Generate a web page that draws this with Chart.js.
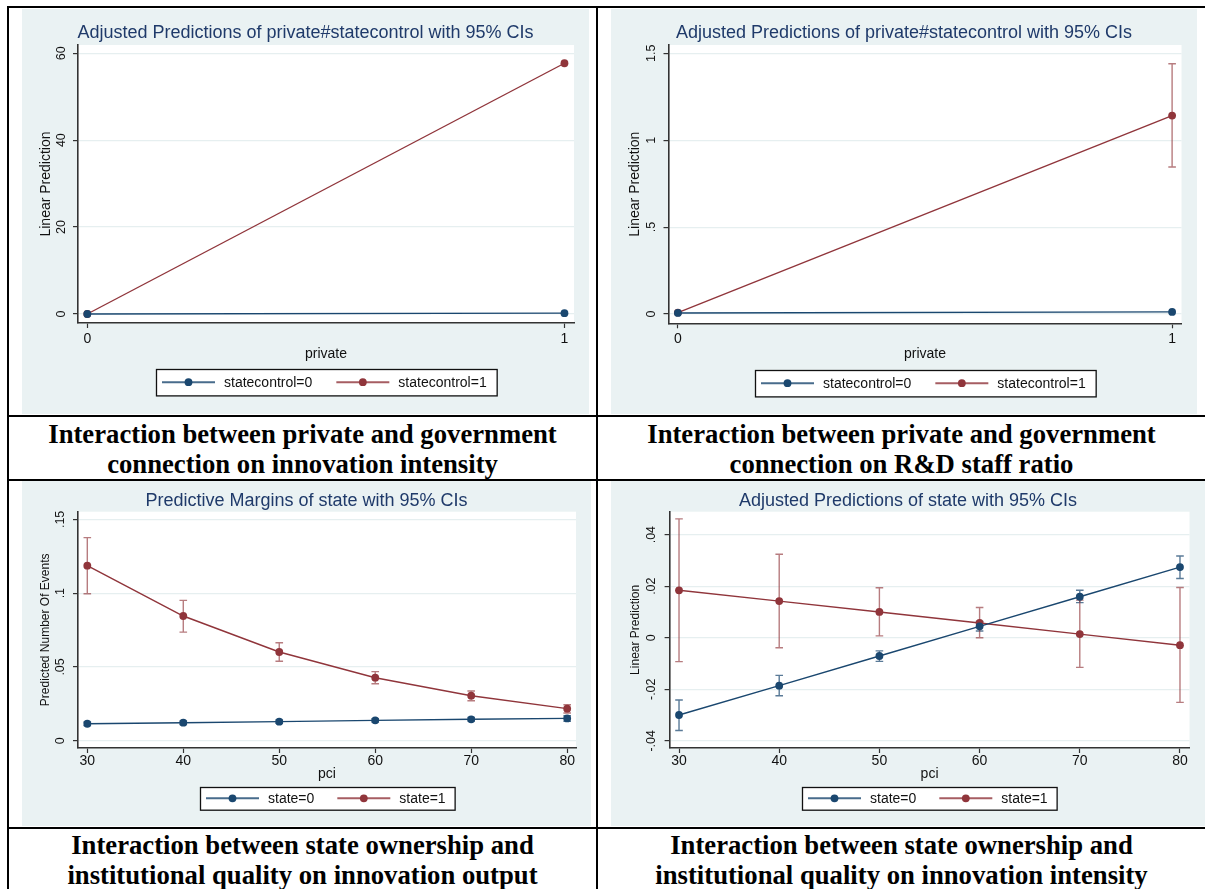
<!DOCTYPE html>
<html>
<head>
<meta charset="utf-8">
<script src="https://cdn.jsdelivr.net/npm/chart.js@4/dist/chart.umd.min.js"></script>
<style>
html, body { margin: 0; padding: 0; background: #fff; }
#page { position: relative; width: 1205px; height: 889px; overflow: hidden; background: #fff; }
.rule { position: absolute; background: #000; }
.panel { position: absolute; background: #eaf2f3; }
.panel canvas { display: block; }
.caption {
  position: absolute; text-align: center; white-space: nowrap; color: #000;
  font-family: "Liberation Serif", "Times New Roman", serif; font-weight: bold;
  font-size: 26.7px; line-height: 30px;
}
</style>
</head>
<body>
<div id="page">
  <div class="panel" style="left:22px;top:9px;width:567px;height:405px;"><canvas id="c1" width="567" height="405"></canvas></div>
  <div class="panel" style="left:611px;top:9px;width:586px;height:405px;"><canvas id="c2" width="586" height="405"></canvas></div>
  <div class="panel" style="left:22px;top:481px;width:569px;height:345px;"><canvas id="c3" width="569" height="345"></canvas></div>
  <div class="panel" style="left:611px;top:481px;width:594px;height:345px;"><canvas id="c4" width="594" height="345"></canvas></div>

  <div class="rule" style="left:7px;top:6px;width:1198px;height:2px;"></div>
  <div class="rule" style="left:7px;top:6px;width:2px;height:883px;"></div>
  <div class="rule" style="left:596px;top:6px;width:2px;height:883px;"></div>
  <div class="rule" style="left:7px;top:415px;width:1198px;height:2px;"></div>
  <div class="rule" style="left:7px;top:479px;width:1198px;height:2px;"></div>
  <div class="rule" style="left:7px;top:827px;width:1198px;height:2px;"></div>

  <div class="caption" style="left:9px;top:419px;width:587px;">Interaction between private and government<br>connection on innovation intensity</div>
  <div class="caption" style="left:598px;top:419px;width:607px;">Interaction between private and government<br>connection on R&amp;D staff ratio</div>
  <div class="caption" style="left:9px;top:830px;width:587px;">Interaction between state ownership and<br>institutional quality on innovation output</div>
  <div class="caption" style="left:598px;top:830px;width:607px;">Interaction between state ownership and<br>institutional quality on innovation intensity</div>
</div>

<script>
// ---- data ----
const privateLevels = [0, 1];
const pciLevels = [30, 40, 50, 60, 70, 80];

// innovation intensity by private x statecontrol
const intensityCtl0 = [0, 0.2];
const intensityCtl1 = [0, 57.7];
const intensityTicks = [0, 20, 40, 60];

// R&D staff ratio by private x statecontrol
const staffCtl0 = [0.006, 0.012];
const staffCtl1 = [0.008, 1.142];
const staffCtl1Low = [null, 0.846];
const staffCtl1High = [null, 1.44];
const staffTicks = [0, 0.5, 1, 1.5];

// innovation output (predicted events) by pci x state
const outputState0 = [0.0115, 0.0122, 0.0129, 0.0138, 0.0145, 0.0151];
const outputState0Low = [0.0102, 0.0110, 0.0118, 0.0127, 0.0133, 0.0131];
const outputState0High = [0.0127, 0.0133, 0.0140, 0.0149, 0.0157, 0.0169];
const outputState1 = [0.1186, 0.0845, 0.0601, 0.0427, 0.0305, 0.0217];
const outputState1Low = [0.0996, 0.0736, 0.0538, 0.0386, 0.0271, 0.0188];
const outputState1High = [0.1376, 0.0951, 0.0664, 0.0468, 0.0337, 0.0244];
const outputTicks = [0, 0.05, 0.1, 0.15];

// innovation intensity by pci x state
const pciIntState0 = [-0.0300, -0.0186, -0.0071, 0.0044, 0.0159, 0.0274];
const pciIntState0Low = [-0.0360, -0.0225, -0.0092, 0.0026, 0.0136, 0.0230];
const pciIntState0High = [-0.0242, -0.0146, -0.0051, 0.0063, 0.0184, 0.0317];
const pciIntState1 = [0.0184, 0.0142, 0.0100, 0.0057, 0.0014, -0.0029];
const pciIntState1Low = [-0.0093, -0.0039, 0.0007, 0.0000, -0.0115, -0.0251];
const pciIntState1High = [0.0461, 0.0324, 0.0194, 0.0117, 0.0146, 0.0195];
const pciIntTicks = [-0.04, -0.02, 0, 0.02, 0.04];

// ---- styling ----
const NAVY = '#1a476f';
const MAROON = '#90353b';
const NAVY_CI = 'rgba(26,71,111,0.72)';
const MAROON_CI = 'rgba(144,53,59,0.65)';
const TITLE_COLOR = '#1f3a6a';
const AXIS_COLOR = '#333333';
const GRID_COLOR = '#e6eff0';
const FONT = "'Liberation Sans', Arial, Helvetica, sans-serif";

Chart.defaults.font.family = FONT;
Chart.defaults.color = '#111';

// Stata-style number labels: .05, -.02, 1.5
function stataNum(v) {
  const s = String(Math.round(v * 10000) / 10000);
  return s.replace(/^(-?)0\./, '$1.');
}

const plotBg = {
  id: 'plotBg',
  beforeDraw(chart) {
    const { ctx, chartArea: a } = chart;
    ctx.save();
    ctx.fillStyle = '#ffffff';
    ctx.fillRect(a.left, a.top, a.right - a.left, a.bottom - a.top);
    ctx.restore();
  }
};

// confidence-interval caps drawn under the lines
const ciCaps = {
  id: 'ciCaps',
  beforeDatasetsDraw(chart) {
    const { ctx, scales: { x, y } } = chart;
    chart.data.datasets.forEach(ds => {
      if (!ds.ciLow) return;
      ctx.save();
      ctx.strokeStyle = ds.ciColor;
      ctx.lineWidth = 1.4;
      ds.data.forEach((pt, i) => {
        const lo = ds.ciLow[i], hi = ds.ciHigh[i];
        if (lo == null || hi == null) return;
        const px = x.getPixelForValue(pt.x);
        const pl = y.getPixelForValue(lo);
        const ph = y.getPixelForValue(hi);
        const cap = 3.8;
        ctx.beginPath();
        ctx.moveTo(px, pl); ctx.lineTo(px, ph);
        ctx.moveTo(px - cap, pl); ctx.lineTo(px + cap, pl);
        ctx.moveTo(px - cap, ph); ctx.lineTo(px + cap, ph);
        ctx.stroke();
      });
      ctx.restore();
    });
  }
};

// framed legend row under the x-axis title
const boxLegend = {
  id: 'boxLegend',
  afterDraw(chart, args, o) {
    const { ctx, chartArea: a } = chart;
    ctx.save();
    ctx.font = o.fontSize + 'px ' + FONT;
    const items = chart.data.datasets.map(ds => ({
      label: ds.label, color: ds.borderColor, lineColor: ds.legendLine,
      w: ctx.measureText(ds.label).width
    }));
    let width = o.padLeft + o.padRight;
    items.forEach((it, i) => { width += o.lineLen + o.textGap + it.w + (i ? o.itemGap : 0); });
    const left = Math.round((a.left + a.right) / 2 - width / 2);
    const top = Math.round(a.bottom + o.offset);
    const cy = top + o.height / 2;
    ctx.fillStyle = '#fff';
    ctx.fillRect(left, top, width, o.height);
    ctx.strokeStyle = '#111';
    ctx.lineWidth = 1.3;
    ctx.strokeRect(left + 0.5, top + 0.5, width, o.height);
    let x = left + o.padLeft;
    items.forEach((it, i) => {
      if (i) x += o.itemGap;
      ctx.strokeStyle = it.lineColor;
      ctx.lineWidth = 2;
      ctx.beginPath(); ctx.moveTo(x, cy); ctx.lineTo(x + o.lineLen, cy); ctx.stroke();
      ctx.fillStyle = it.color;
      ctx.beginPath(); ctx.arc(x + o.lineLen / 2, cy, 3.9, 0, Math.PI * 2); ctx.fill();
      x += o.lineLen + o.textGap;
      ctx.fillStyle = '#111';
      ctx.textBaseline = 'middle';
      ctx.textAlign = 'left';
      ctx.fillText(it.label, x, cy + 0.5);
      x += it.w;
    });
    ctx.restore();
  }
};

function series(label, xs, ys, color, lineColor, ciColor, low, high) {
  return {
    label,
    data: xs.map((xv, i) => ({ x: xv, y: ys[i] })),
    borderColor: color,
    backgroundColor: color,
    borderWidth: 1.4,
    pointRadius: 3.9,
    pointBorderWidth: 0,
    pointBackgroundColor: color,
    tension: 0,
    legendLine: lineColor,
    ciColor, ciLow: low || null, ciHigh: high || null
  };
}

function panel(id, c) {
  new Chart(document.getElementById(id), {
    type: 'line',
    data: { datasets: c.datasets },
    plugins: [plotBg, ciCaps, boxLegend],
    options: {
      responsive: false,
      animation: false,
      events: [],
      layout: { padding: { left: c.padSide, right: c.padSide, top: 0, bottom: c.padBottom } },
      plugins: {
        legend: { display: false },
        tooltip: { enabled: false },
        title: {
          display: true, text: c.title, color: TITLE_COLOR,
          font: { size: 18, weight: 'normal' },
          padding: { top: c.titleTop, bottom: c.titleBottom }
        },
        boxLegend: c.legend
      },
      scales: {
        x: {
          type: 'linear', min: c.xMin, max: c.xMax,
          afterBuildTicks: s => { s.ticks = c.xTicks.map(v => ({ value: v })); },
          afterFit: s => { s.height = c.xAxisHeight; },
          grid: { drawOnChartArea: false, drawTicks: true, tickLength: 5, tickColor: AXIS_COLOR, tickWidth: 1.2 },
          border: { display: true, color: AXIS_COLOR, width: 1.6 },
          ticks: { font: { size: 14 }, color: '#111', padding: c.xTickPad, maxRotation: 0, autoSkip: false, callback: v => stataNum(v) },
          title: { display: true, text: c.xTitle, font: { size: 14 }, color: '#111', padding: { top: 0, bottom: c.xTitlePad } }
        },
        y: {
          type: 'linear', min: c.yMin, max: c.yMax,
          afterBuildTicks: s => { s.ticks = c.yTicks.map(v => ({ value: v })); },
          afterFit: s => { s.width = c.yAxisWidth; },
          grid: { color: GRID_COLOR, lineWidth: 1.2, drawTicks: true, tickLength: 5, tickColor: AXIS_COLOR, tickWidth: 1.2 },
          border: { display: true, color: AXIS_COLOR, width: 1.6 },
          ticks: { font: { size: 12.5 }, color: '#111', padding: c.yTickPad, minRotation: 90, maxRotation: 90, crossAlign: 'center', autoSkip: false, callback: v => stataNum(v) },
          title: { display: true, text: c.yTitle, font: { size: c.yTitleSize }, color: '#111', padding: { top: c.yTitlePad, bottom: 0 } }
        }
      }
    }
  });
}

const legendTop = { fontSize: 14, padLeft: 6, lineLen: 53, textGap: 9, itemGap: 24, padRight: 10, offset: 46.3, height: 26.4 };
const legendBottom = { fontSize: 14, padLeft: 6, lineLen: 53, textGap: 9, itemGap: 23, padRight: 9, offset: 39.3, height: 22.7 };

panel('c1', {
  title: 'Adjusted Predictions of private#statecontrol with 95% CIs',
  datasets: [
    series('statecontrol=0', privateLevels, intensityCtl0, NAVY, 'rgba(26,71,111,0.8)', NAVY_CI),
    series('statecontrol=1', privateLevels, intensityCtl1, MAROON, 'rgba(144,53,59,0.8)', MAROON_CI)
  ],
  xMin: -0.0195, xMax: 1.02, xTicks: privateLevels, xTitle: 'private',
  yMin: -2.07, yMax: 61.9, yTicks: intensityTicks, yTitle: 'Linear Prediction', yTitleSize: 14,
  padSide: 15, padBottom: 47, xAxisHeight: 44, xTickPad: 2.6, xTitlePad: 4.6,
  yAxisWidth: 41, yTickPad: 5.0, yTitlePad: 0.6,
  titleTop: 13.2, titleBottom: 1.2, legend: legendTop
});

panel('c2', {
  title: 'Adjusted Predictions of private#statecontrol with 95% CIs',
  datasets: [
    series('statecontrol=0', privateLevels, staffCtl0, NAVY, 'rgba(26,71,111,0.8)', NAVY_CI),
    series('statecontrol=1', privateLevels, staffCtl1, MAROON, 'rgba(144,53,59,0.8)', MAROON_CI, staffCtl1Low, staffCtl1High)
  ],
  xMin: -0.019, xMax: 1.019, xTicks: privateLevels, xTitle: 'private',
  yMin: -0.0535, yMax: 1.548, yTicks: staffTicks, yTitle: 'Linear Prediction', yTitleSize: 14,
  padSide: 15.5, padBottom: 46.7, xAxisHeight: 44, xTickPad: 2.6, xTitlePad: 4.6,
  yAxisWidth: 42, yTickPad: 3.5, yTitlePad: 0.1,
  titleTop: 13.2, titleBottom: 1.2, legend: legendTop
});

panel('c3', {
  title: 'Predictive Margins of state with 95% CIs',
  datasets: [
    series('state=0', pciLevels, outputState0, NAVY, 'rgba(26,71,111,0.8)', NAVY_CI, outputState0Low, outputState0High),
    series('state=1', pciLevels, outputState1, MAROON, 'rgba(144,53,59,0.8)', MAROON_CI, outputState1Low, outputState1High)
  ],
  xMin: 29.03, xMax: 80.92, xTicks: pciLevels, xTitle: 'pci',
  yMin: -0.00495, yMax: 0.1552, yTicks: outputTicks, yTitle: 'Predicted Number Of Events', yTitleSize: 12,
  padSide: 15, padBottom: 38, xAxisHeight: 40, xTickPad: -0.7, xTitlePad: 5.6,
  yAxisWidth: 41, yTickPad: 3.4, yTitlePad: 1.8,
  titleTop: 8.9, titleBottom: 0.2, legend: legendBottom
});

panel('c4', {
  title: 'Adjusted Predictions of state with 95% CIs',
  datasets: [
    series('state=0', pciLevels, pciIntState0, NAVY, 'rgba(26,71,111,0.8)', NAVY_CI, pciIntState0Low, pciIntState0High),
    series('state=1', pciLevels, pciIntState1, MAROON, 'rgba(144,53,59,0.8)', MAROON_CI, pciIntState1Low, pciIntState1High)
  ],
  xMin: 29.06, xMax: 80.95, xTicks: pciLevels, xTitle: 'pci',
  yMin: -0.0428, yMax: 0.0489, yTicks: pciIntTicks, yTitle: 'Linear Prediction', yTitleSize: 12,
  padSide: 15.5, padBottom: 38, xAxisHeight: 40, xTickPad: -0.7, xTitlePad: 5.6,
  yAxisWidth: 43.1, yTickPad: 1.9, yTitlePad: 1.8,
  titleTop: 8.9, titleBottom: 0.2, legend: legendBottom
});
</script>
</body>
</html>
